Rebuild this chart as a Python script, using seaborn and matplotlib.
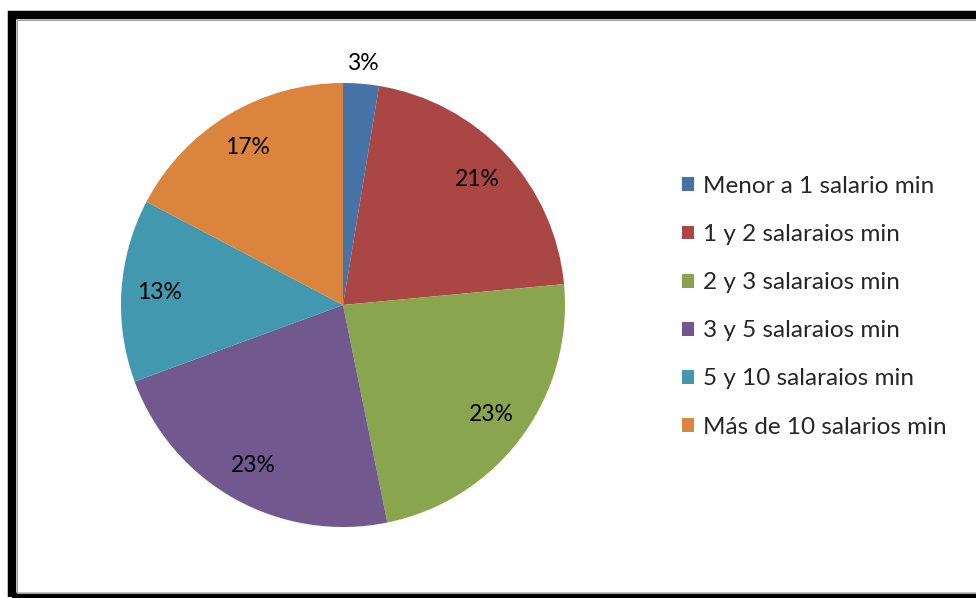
import matplotlib
matplotlib.use("Agg")
import matplotlib.pyplot as plt
from matplotlib.patches import Rectangle, Patch
import seaborn as sns

categories = ["Menor a 1 salario min", "1 y 2 salaraios min", "2 y 3 salaraios min",
              "3 y 5 salaraios min", "5 y 10 salaraios min", "Más de 10 salarios min"]
shares = [2.6, 20.9, 23.3, 22.6, 13.3, 17.3]
colors = ["#4572A7", "#AA4643", "#89A54E", "#71588F", "#4198AF", "#DB843D"]

sns.set_theme(style="white")
plt.rcParams['font.family'] = ['Lato', 'DejaVu Sans']

fig = plt.figure(figsize=(9.76, 5.98), dpi=100)
ax = fig.add_axes([121 / 976, 71 / 598, 444 / 976, 444 / 598])

wedges, texts, autotexts = ax.pie(shares, colors=colors, startangle=90, counterclock=False,
                                  autopct="%.0f%%", pctdistance=0.83,
                                  wedgeprops=dict(linewidth=0),
                                  textprops=dict(fontsize=16.5, color="black"))
# small slice label sits just outside the pie
x, y = autotexts[0].get_position()
autotexts[0].set_position((x * 1.09 / 0.83, y * 1.09 / 0.83))
ax.set_xlim(-1, 1)
ax.set_ylim(-1, 1)
ax.set_aspect("equal")
ax.axis("off")

handles = [Patch(facecolor=c, edgecolor="none") for c in colors]
fig.legend(handles, categories, loc="upper left", bbox_to_anchor=(682 / 976, 1 - 176 / 598),
           frameon=False, fontsize=17.5, handlelength=0.5, handleheight=0.5,
           handletextpad=0.37, labelspacing=1.115, borderaxespad=0, borderpad=0)

# outer frame like the original chart border
fig.patches.append(Rectangle((12 / 976, 1 / 598), 1.1, 582.5 / 598, transform=fig.transFigure,
                             fill=False, edgecolor="black", linewidth=6.1, zorder=5))
fig.patches.append(Rectangle((16.5 / 976, 5.5 / 598), 1.1, 573 / 598, transform=fig.transFigure,
                             fill=False, edgecolor="#a0a0a0", linewidth=0.8, zorder=5))

fig.savefig("out.png", dpi=100)
